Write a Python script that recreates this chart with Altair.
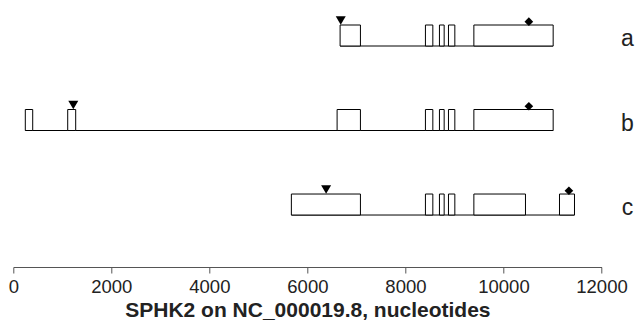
import altair as alt
import pandas as pd

# ---- data ----
transcripts = ["a", "b", "c"]
exon_starts = [
    [6667, 8408, 8694, 8878, 9396],
    [245, 1110, 6606, 8408, 8694, 8878, 9396],
    [5673, 8408, 8694, 8878, 9396, 11143],
]
exon_ends = [
    [7082, 8559, 8790, 9008, 11014],
    [396, 1273, 7082, 8559, 8790, 9008, 11014],
    [7082, 8559, 8790, 9008, 10449, 11449],
]
start_codons = [6680, 1224, 6382]
stop_codons = [10518, 10518, 11335]
x_ticks = [0, 2000, 4000, 6000, 8000, 10000, 12000]
x_title = "SPHK2 on NC_000019.8, nucleotides"

# ---- build tables ----
exon_rows = []
for i, t in enumerate(transcripts):
    for s, e in zip(exon_starts[i], exon_ends[i]):
        exon_rows.append({"tr": t, "row": i, "start": s, "end": e})
exons = pd.DataFrame(exon_rows)
introns = pd.DataFrame({
    "tr": transcripts,
    "row": list(range(len(transcripts))),
    "start": [min(s) for s in exon_starts],
    "end": [max(e) for e in exon_ends],
})
codons = pd.DataFrame({
    "tr": transcripts,
    "row": list(range(len(transcripts))),
    "start": start_codons,
    "stop": stop_codons,
})

BOX_H = 0.2485
xscale = alt.Scale(domain=[0, 12000], nice=False, zero=False)
yscale = alt.Scale(domain=[-0.4497, 2.615], reverse=True, nice=False, zero=False)

xaxis = alt.Axis(
    values=x_ticks, format="d", title=x_title, grid=False,
    domainColor="#555", tickColor="#555", tickSize=6,
    labelFont="Liberation Sans", labelFontSize=18.5, labelColor="#222",
    labelPadding=4, labelFlush=False,
    titleFont="Liberation Sans", titleFontSize=21, titleFontWeight="bold",
    titleColor="#222", titlePadding=4,
)

intron_layer = alt.Chart(introns).mark_rule(color="black", strokeWidth=1).encode(
    x=alt.X("start:Q", scale=xscale, axis=xaxis),
    x2="end:Q",
    y=alt.Y("row:Q", scale=yscale, axis=None),
)

exon_layer = alt.Chart(exons).transform_calculate(
    top=f"datum.row - {BOX_H}"
).mark_rect(fill="white", stroke="black", strokeWidth=1).encode(
    x=alt.X("start:Q", scale=xscale),
    x2="end:Q",
    y=alt.Y("row:Q", scale=yscale),
    y2="top:Q",
)

start_layer = alt.Chart(codons).mark_point(
    shape="triangle-down", filled=True, color="black", size=100, opacity=1, yOffset=-25.5
).encode(
    x=alt.X("start:Q", scale=xscale),
    y=alt.Y("row:Q", scale=yscale),
)

stop_layer = alt.Chart(codons).mark_point(
    shape="diamond", filled=True, color="black", size=75, opacity=1, yOffset=-24.3
).encode(
    x=alt.X("stop:Q", scale=xscale),
    y=alt.Y("row:Q", scale=yscale),
)

label_layer = alt.Chart(codons).mark_text(
    font="Liberation Sans", fontSize=23, color="#222", align="center", baseline="alphabetic"
).encode(
    x=alt.datum(12530, scale=xscale),
    y=alt.Y("row:Q", scale=yscale),
    text="tr:N",
)

chart = alt.layer(intron_layer, exon_layer, start_layer, stop_layer, label_layer).properties(
    width=588.2, height=259,
    autosize=alt.AutoSizeParams(type="none"),
    padding={"left": 5.3, "top": 0, "right": 34, "bottom": 55},
    background="white",
).configure_view(stroke=None)

chart.save("out.html", embed_options={"renderer": "svg", "actions": False})
